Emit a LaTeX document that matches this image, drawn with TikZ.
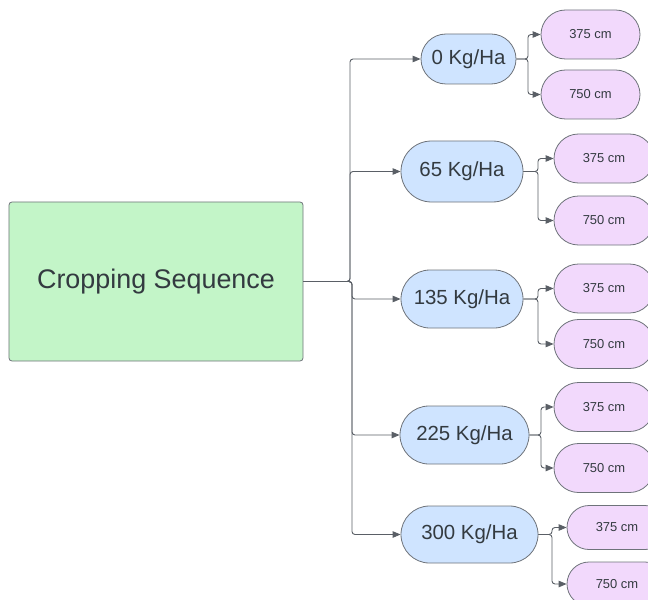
\documentclass[tikz,border=0pt]{standalone}
\usepackage{fontspec}
\setmainfont{Liberation Sans}
\usetikzlibrary{arrows.meta}
\definecolor{gfill}{HTML}{C3F5C8}
\definecolor{bfill}{HTML}{CFE4FF}
\definecolor{pfill}{HTML}{F2D9FC}
\definecolor{edge}{HTML}{6E737A}
\definecolor{txt}{HTML}{333A40}
\definecolor{wire}{HTML}{5A5F66}
\begin{document}
\begin{tikzpicture}[x=1bp,y=-1bp,
  root/.style={draw=edge, line width=0.8bp, fill=gfill, rounded corners=3bp, inner sep=0pt,
    minimum width=294bp, minimum height=159bp, text=txt, font=\fontsize{27}{32}\selectfont},
  dose/.style={draw=edge, line width=0.8bp, fill=bfill, inner sep=0pt, text=txt,
    font=\fontsize{20.5}{24}\selectfont},
  spc/.style={draw=edge, line width=0.8bp, fill=pfill, inner sep=0pt, text=txt,
    minimum width=100bp, font=\fontsize{13}{16}\selectfont},
  conn/.style={draw=wire, line width=0.9bp, rounded corners=3bp,
    -{Triangle[length=8bp,width=6.5bp]}}
]
\useasboundingbox (0,0) rectangle (648,600);
\node[root] (G) at (156,281.5) {Cropping Sequence};

\node[dose, minimum width=95bp, minimum height=50bp, rounded corners=25bp] (d0) at (468.5,59) {0 Kg/Ha};
\node[dose, minimum width=122bp, minimum height=61bp, rounded corners=30.5bp] (d65) at (462,171.5) {65 Kg/Ha};
\node[dose, minimum width=122bp, minimum height=58bp, rounded corners=29bp] (d135) at (462,299) {135 Kg/Ha};
\node[dose, minimum width=129bp, minimum height=58bp, rounded corners=29bp] (d225) at (464.5,435) {225 Kg/Ha};
\node[dose, minimum width=137bp, minimum height=57bp, rounded corners=28.5bp] (d300) at (469.5,534.5) {300 Kg/Ha};

\node[spc, minimum width=99bp, minimum height=49bp, rounded corners=24.5bp] (a0) at (590.5,34.5) {375 cm};
\node[spc, minimum width=99bp, minimum height=49bp, rounded corners=24.5bp] (b0) at (590.5,94.5) {750 cm};
\node[spc, minimum height=49bp, rounded corners=24.5bp] (a65) at (604,158.5) {375 cm};
\node[spc, minimum height=49bp, rounded corners=24.5bp] (b65) at (604,220.5) {750 cm};
\node[spc, minimum height=49bp, rounded corners=24.5bp] (a135) at (604,288.5) {375 cm};
\node[spc, minimum height=49bp, rounded corners=24.5bp] (b135) at (604,344) {750 cm};
\node[spc, minimum height=49bp, rounded corners=24.5bp] (a225) at (604,407) {375 cm};
\node[spc, minimum height=49bp, rounded corners=24.5bp] (b225) at (604,468) {750 cm};
\node[spc, minimum height=44bp, rounded corners=22bp] (a300) at (617,527.5) {375 cm};
\node[spc, minimum height=44bp, rounded corners=22bp] (b300) at (617,584) {750 cm};

% trunk connectors
\draw[conn] (G.east) -- (350,281.5) |- (d0.west);
\draw[conn] (G.east) -- (350,281.5) |- (d65.west);
\draw[conn] (G.east) -- (352,281.5) |- (d135.west);
\draw[conn] (G.east) -- (352,281.5) |- (d225.west);
\draw[conn] (G.east) -- (352,281.5) |- (d300.west);

% branch connectors
\draw[conn] (d0.east) -- (528,59) |- (a0.west);
\draw[conn] (d0.east) -- (528,59) |- (b0.west);
\draw[conn] (d65.east) -- (538,171.5) |- (a65.west);
\draw[conn] (d65.east) -- (538,171.5) |- (b65.west);
\draw[conn] (d135.east) -- (538,299) |- (a135.west);
\draw[conn] (d135.east) -- (538,299) |- (b135.west);
\draw[conn] (d225.east) -- (541,435) |- (a225.west);
\draw[conn] (d225.east) -- (541,435) |- (b225.west);
\draw[conn] (d300.east) -- (552,534.5) |- (a300.west);
\draw[conn] (d300.east) -- (552,534.5) |- (b300.west);
\end{tikzpicture}
\end{document}
